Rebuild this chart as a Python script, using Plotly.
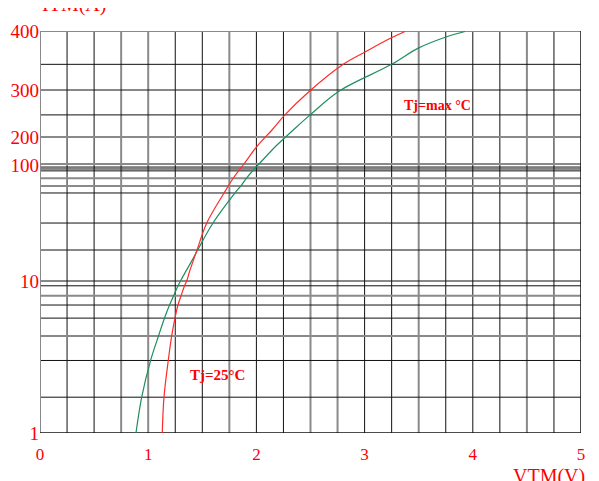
import numpy as np
import plotly.graph_objects as go

# ---------------- data ----------------
x_ticks = [0, 1, 2, 3, 4, 5]
y_ticks = [1, 10, 100, 200, 300, 400]

# Tj = 25 C (red)
v_25 = [1.130, 1.146, 1.186, 1.217, 1.248, 1.275, 1.303, 1.335, 1.359, 1.386, 1.419, 1.451, 1.541,
        1.701, 1.787, 1.885, 2.008, 2.142, 2.255, 2.495, 2.803, 3.004, 3.189, 3.373]
i_25 = [1.0, 1.725, 3.02, 4.35, 5.71, 6.95, 7.97, 9.27, 10.2, 12.4, 15.2, 18.5, 31.6,
        57.4, 77.3, 102.5, 160, 212, 240, 298, 340, 361, 381, 399]

# Tj = max C (green)
v_max = [0.887, 0.940, 1.023, 1.095, 1.151, 1.197, 1.234, 1.275, 1.303, 1.354, 1.408, 1.457, 1.599,
         1.802, 1.855, 1.910, 1.964, 2.024, 2.181, 2.338, 2.486, 2.770, 3.250, 3.496, 3.759, 3.928]
i_max = [1.0, 1.725, 3.02, 4.35, 5.71, 6.95, 7.97, 9.27, 10.2, 12.4, 15.2, 18.5, 31.6,
         57.4, 65.9, 77.3, 88.8, 102.5, 160, 212, 240, 298, 340, 368, 389, 399]

# grid values as drawn on the original sheet
x_grid = [0.25, 0.5, 0.75, 1.0, 1.25, 1.5, 1.75, 2.0, 2.25, 2.5, 2.75, 3.0,
          3.25, 3.5, 3.75, 4.0, 4.25, 4.5, 4.75]
y_grid = [1.72, 3.0, 4.35, 5.7, 6.95, 8.0, 9.3, 10, 18.5, 31.6, 57.4, 66, 77,
          89, 92.4, 96, 102.5, 200, 242, 300, 340]

# ---------------- scale (the sheet's non-uniform current axis) ----------------
scale_vals = [1, 10, 100, 200, 300, 400]
scale_units = [0, 152, 268, 296, 343, 402]


def yscale(v):
    return np.interp(np.log10(np.asarray(v, float)), np.log10(scale_vals), scale_units)


# ---------------- styles ----------------
RED = "#ff0000"
FONT = "Liberation Serif"
x_gray = {0.75, 1.0, 1.75, 2.5, 2.75, 3.5, 4.5}
y_gray = {8.0, 4.35, 66, 77, 102.5, 200}
GRAY = "#8a8a8a"
BLACK = "#111111"

fig = go.Figure()

fig.add_trace(go.Scatter(x=v_max, y=yscale(i_max), mode="lines", name="Tj=max",
                         line=dict(color="#1f8f5f", width=1.2, shape="spline", smoothing=1.0)))
fig.add_trace(go.Scatter(x=v_25, y=yscale(i_25), mode="lines", name="Tj=25",
                         line=dict(color="#ff2a2a", width=1.2, shape="spline", smoothing=1.0)))

shapes = []
for xv in x_grid:
    g = xv in x_gray
    shapes.append(dict(type="line", xref="x", yref="y", x0=xv, x1=xv, y0=0, y1=float(yscale(400)),
                       line=dict(color=GRAY if g else BLACK, width=2 if g else 1), layer="below"))
for yv in y_grid:
    g = yv in y_gray
    yy = float(yscale(yv))
    shapes.append(dict(type="line", xref="x", yref="y", x0=0, x1=5, y0=yy, y1=yy,
                       line=dict(color=GRAY if g else BLACK, width=2 if g else 1), layer="below"))
# border
top = float(yscale(400))
shapes.append(dict(type="line", xref="x", yref="y", x0=0, x1=5, y0=top, y1=top,
                   line=dict(color=GRAY, width=2), layer="below"))
shapes.append(dict(type="line", xref="x", yref="y", x0=0, x1=0, y0=0, y1=top,
                   line=dict(color=GRAY, width=2), layer="below"))
shapes.append(dict(type="line", xref="x", yref="y", x0=0, x1=5, y0=0, y1=0,
                   line=dict(color=BLACK, width=1.5), layer="below"))
shapes.append(dict(type="line", xref="x", yref="y", x0=5, x1=5, y0=0, y1=top,
                   line=dict(color=BLACK, width=1.5), layer="below"))

annotations = [
    dict(text="ITM(A)", xref="paper", yref="paper", x=0.0, y=1.033, xanchor="left", yanchor="bottom",
         showarrow=False, font=dict(family=FONT, size=20, color=RED)),
    dict(text="VTM(V)", xref="paper", yref="paper", x=1.012, y=-0.075, xanchor="right", yanchor="top",
         showarrow=False, font=dict(family=FONT, size=20, color=RED)),
    dict(text="<b>Tj=max °C</b>", xref="x", yref="y", x=3.345, y=float(yscale(300)) - 15, xanchor="left",
         yanchor="middle", showarrow=False, font=dict(family=FONT, size=14, color=RED)),
    dict(text="<b>Tj=25°C</b>", xref="x", yref="y", x=1.368, y=58, xanchor="left",
         yanchor="middle", showarrow=False, font=dict(family=FONT, size=15, color=RED)),
]

# page body adds an 8 px offset, so margins are set to put the plot area
# at the same place as in the reference picture
fig.update_layout(
    width=599, height=481,
    margin=dict(l=32, r=26, t=23, b=56, autoexpand=False),
    paper_bgcolor="white", plot_bgcolor="white",
    showlegend=False,
    shapes=shapes, annotations=annotations,
    xaxis=dict(range=[0, 5], showgrid=False, zeroline=False, showline=False,
               tickvals=x_ticks, ticktext=[str(t) for t in x_ticks],
               ticks="outside", ticklen=6, tickcolor="rgba(0,0,0,0)",
               tickfont=dict(family=FONT, size=17, color=RED), fixedrange=True),
    yaxis=dict(range=[0, float(yscale(400))], showgrid=False, zeroline=False, showline=False,
               tickvals=[float(v) for v in yscale(y_ticks)], ticktext=[str(t) for t in y_ticks],
               ticks="", ticklabelstandoff=0,
               tickfont=dict(family=FONT, size=19, color=RED), fixedrange=True),
)

fig.write_html("out.html")
